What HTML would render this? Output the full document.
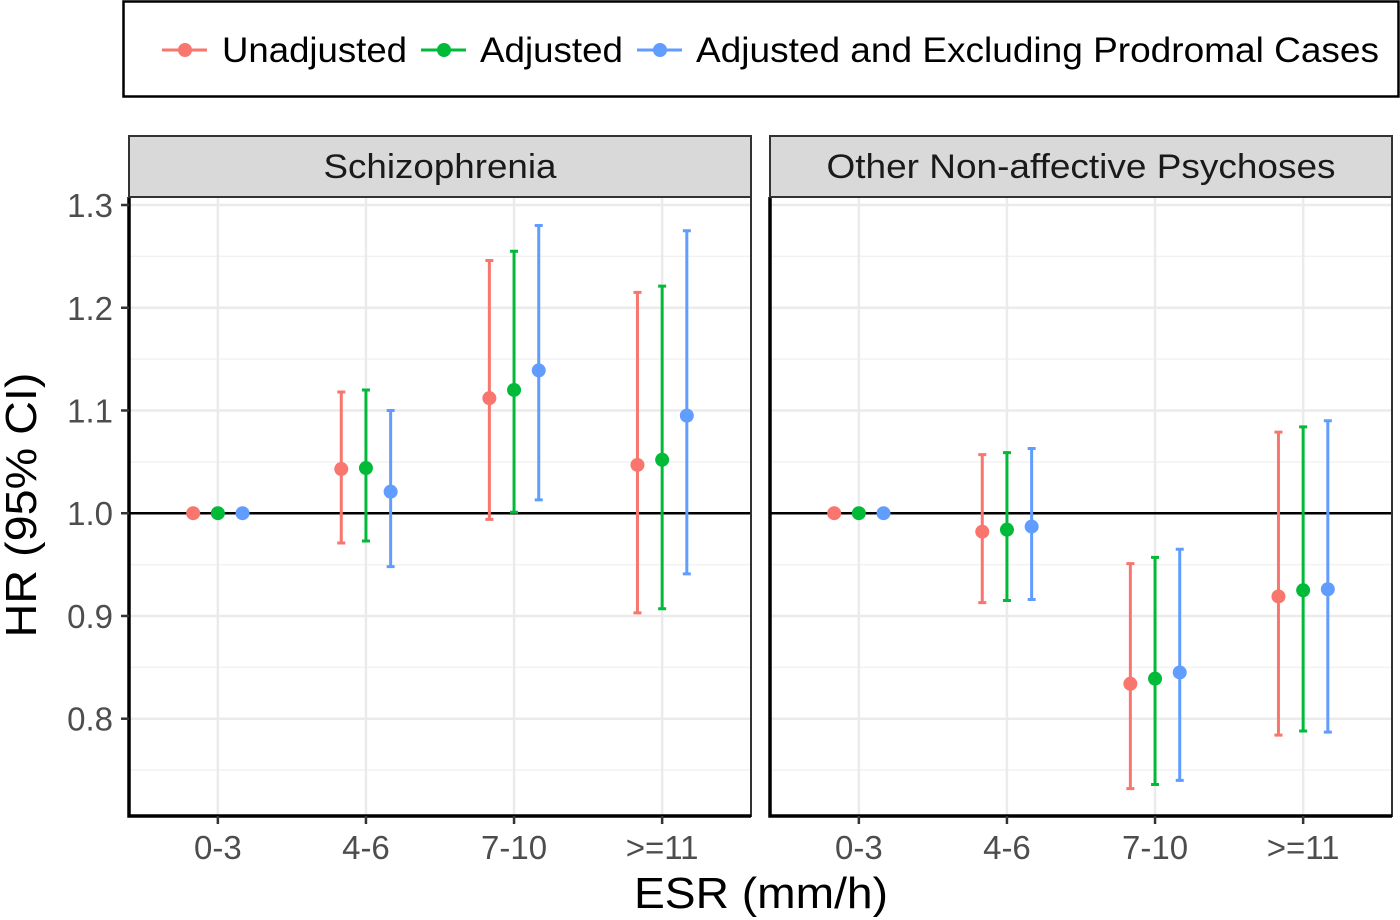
<!DOCTYPE html>
<html><head><meta charset="utf-8">
<style>
html,body{margin:0;padding:0;background:#fff;}
svg{display:block;font-family:"Liberation Sans",Arial,sans-serif;}
</style></head>
<body>
<svg id="chart" width="1400" height="920" viewBox="0 0 1400 920" xmlns="http://www.w3.org/2000/svg">
  <g>
    <rect x="123.5" y="1.5" width="1275" height="95" fill="#fff" stroke="#000" stroke-width="2.5"/>
    <g>
      <line x1="162" y1="50" x2="207" y2="50" stroke="#F8766D" stroke-width="3"/>
      <circle cx="185" cy="50" r="7" fill="#F8766D"/>
      <text x="222" y="62" font-size="35" fill="#000" textLength="185" lengthAdjust="spacingAndGlyphs">Unadjusted</text>
    </g>
    <g>
      <line x1="421" y1="50" x2="466" y2="50" stroke="#00BA38" stroke-width="3"/>
      <circle cx="444" cy="50" r="7" fill="#00BA38"/>
      <text x="480" y="62" font-size="35" fill="#000" textLength="143" lengthAdjust="spacingAndGlyphs">Adjusted</text>
    </g>
    <g>
      <line x1="637" y1="50" x2="682" y2="50" stroke="#619CFF" stroke-width="3"/>
      <circle cx="660" cy="50" r="7" fill="#619CFF"/>
      <text x="696" y="62" font-size="35" fill="#000" textLength="683" lengthAdjust="spacingAndGlyphs">Adjusted and Excluding Prodromal Cases</text>
    </g>
  </g>
  <g id="panels"></g>
  <text transform="translate(36,505) rotate(-90)" text-anchor="middle" font-size="44" fill="#000" textLength="265" lengthAdjust="spacingAndGlyphs">HR (95% CI)</text>
  <text x="761" y="908" text-anchor="middle" font-size="44" fill="#000" textLength="254" lengthAdjust="spacingAndGlyphs">ESR (mm/h)</text>
</svg>
<script>
const categories = ["0-3","4-6","7-10",">=11"];
const panelTitles = ["Schizophrenia","Other Non-affective Psychoses"];
const panelTitleWidths = [233,509];
const seriesNames = ["Unadjusted","Adjusted","Adjusted and Excluding Prodromal Cases"];
const yTicks = [0.8,0.9,1.0,1.1,1.2,1.3];
const yTickLabels = ["0.8","0.9","1.0","1.1","1.2","1.3"];
// Schizophrenia
const schizUnadjEst = [1.0,1.043,1.112,1.047];
const schizUnadjLo  = [1.0,0.971,0.994,0.903];
const schizUnadjHi  = [1.0,1.118,1.246,1.215];
const schizAdjEst = [1.0,1.044,1.120,1.052];
const schizAdjLo  = [1.0,0.973,1.001,0.907];
const schizAdjHi  = [1.0,1.120,1.255,1.221];
const schizExclEst = [1.0,1.021,1.139,1.095];
const schizExclLo  = [1.0,0.948,1.013,0.941];
const schizExclHi  = [1.0,1.100,1.280,1.275];
// Other non-affective psychoses
const otherUnadjEst = [1.0,0.982,0.834,0.919];
const otherUnadjLo  = [1.0,0.913,0.732,0.784];
const otherUnadjHi  = [1.0,1.057,0.951,1.079];
const otherAdjEst = [1.0,0.984,0.839,0.925];
const otherAdjLo  = [1.0,0.915,0.736,0.788];
const otherAdjHi  = [1.0,1.059,0.957,1.084];
const otherExclEst = [1.0,0.987,0.845,0.926];
const otherExclLo  = [1.0,0.916,0.740,0.787];
const otherExclHi  = [1.0,1.063,0.965,1.090];

const colors = ["#F8766D","#00BA38","#619CFF"];
const panelData = [
  [[schizUnadjEst,schizUnadjLo,schizUnadjHi],[schizAdjEst,schizAdjLo,schizAdjHi],[schizExclEst,schizExclLo,schizExclHi]],
  [[otherUnadjEst,otherUnadjLo,otherUnadjHi],[otherAdjEst,otherAdjLo,otherAdjHi],[otherExclEst,otherExclLo,otherExclHi]]
];
const NS="http://www.w3.org/2000/svg";
const plotTop=197, plotBottom=816;
const yMin=0.7053, yMax=1.3078;
function yScale(v){return plotBottom-(v-yMin)/(yMax-yMin)*(plotBottom-plotTop);}
const panelX=[[129,751],[770,1392]];
function mk(tag,attrs,parent){const e=document.createElementNS(NS,tag);for(const k in attrs)e.setAttribute(k,attrs[k]);parent.appendChild(e);return e;}
const root=document.getElementById('panels');
panelX.forEach((px,pi)=>{
  const x0=px[0], x1=px[1];
  function xScale(i,off){return x0+(i+1-0.4+off)/4.2*(x1-x0);}
  const g=mk('g',{},root);
  
  
  mk('rect',{x:x0,y:plotTop,width:x1-x0,height:plotBottom-plotTop,fill:'#fff'},g);
  for(let v=0.75;v<1.31;v+=0.1){const ln=mk('line',{x1:x0,x2:x1,y1:yScale(v),y2:yScale(v),stroke:'#f2f2f2','stroke-width':1.5},g);}
  yTicks.forEach(v=>{const ln=mk('line',{x1:x0,x2:x1,y1:yScale(v),y2:yScale(v),stroke:'#ebebeb','stroke-width':2.5},g);});
  categories.forEach((c,i)=>{const ln=mk('line',{x1:xScale(i,0),x2:xScale(i,0),y1:plotTop,y2:plotBottom,stroke:'#ebebeb','stroke-width':2.5},g);});
  const ref=mk('line',{x1:x0,x2:x1,y1:yScale(1),y2:yScale(1),stroke:'#000','stroke-width':2.5},g);
  
  
  panelData[pi].forEach((s,si)=>{
    const off=(si-1)*0.1667;
    const sg=mk('g',{},g);
    
    
    categories.forEach((c,i)=>{
      const cx=xScale(i,off);
      const est=s[0][i], lo=s[1][i], hi=s[2][i];
      if(hi!==lo){
        const eb=mk('path',{d:`M${cx-4},${yScale(hi)}H${cx+4}M${cx},${yScale(hi)}V${yScale(lo)}M${cx-4},${yScale(lo)}H${cx+4}`,stroke:colors[si],'stroke-width':3,fill:'none'},sg);
        
        
      }
      const p=mk('circle',{cx:cx,cy:yScale(est),r:7,fill:colors[si]},sg);
      
      
    });
  });
  mk('rect',{x:x0,y:plotTop,width:x1-x0,height:plotBottom-plotTop,fill:'none',stroke:'#333','stroke-width':2},g);
  const al=mk('path',{d:`M${x0},${plotTop}V${plotBottom}H${x1}`,stroke:'#000','stroke-width':3.5,fill:'none'},g);
  
  
  const st=mk('rect',{x:x0,y:136,width:x1-x0,height:61,fill:'#d9d9d9',stroke:'#333','stroke-width':2},g);
  
  
  const tt=mk('text',{x:(x0+x1)/2,y:178,'text-anchor':'middle','font-size':34,fill:'#1a1a1a',textLength:panelTitleWidths[pi],lengthAdjust:'spacingAndGlyphs'},g);
  tt.textContent=panelTitles[pi];
  
  
  categories.forEach((c,i)=>{
    const tk=mk('line',{x1:xScale(i,0),x2:xScale(i,0),y1:plotBottom,y2:plotBottom+8,stroke:'#333','stroke-width':2.5},g);
    
    
    const t=mk('text',{x:xScale(i,0),y:859,'text-anchor':'middle','font-size':33,fill:'#4d4d4d'},g);
    t.textContent=c;
    
    
  });
  if(pi===0){
    yTicks.forEach((v,k)=>{
      const tk=mk('line',{x1:x0-8,x2:x0,y1:yScale(v),y2:yScale(v),stroke:'#333','stroke-width':2.5},g);
      
      
      const t=mk('text',{x:x0-16,y:yScale(v)+12,'text-anchor':'end','font-size':33,fill:'#4d4d4d'},g);
      t.textContent=yTickLabels[k];
      
      
    });
  }
});
</script>
</body></html>
